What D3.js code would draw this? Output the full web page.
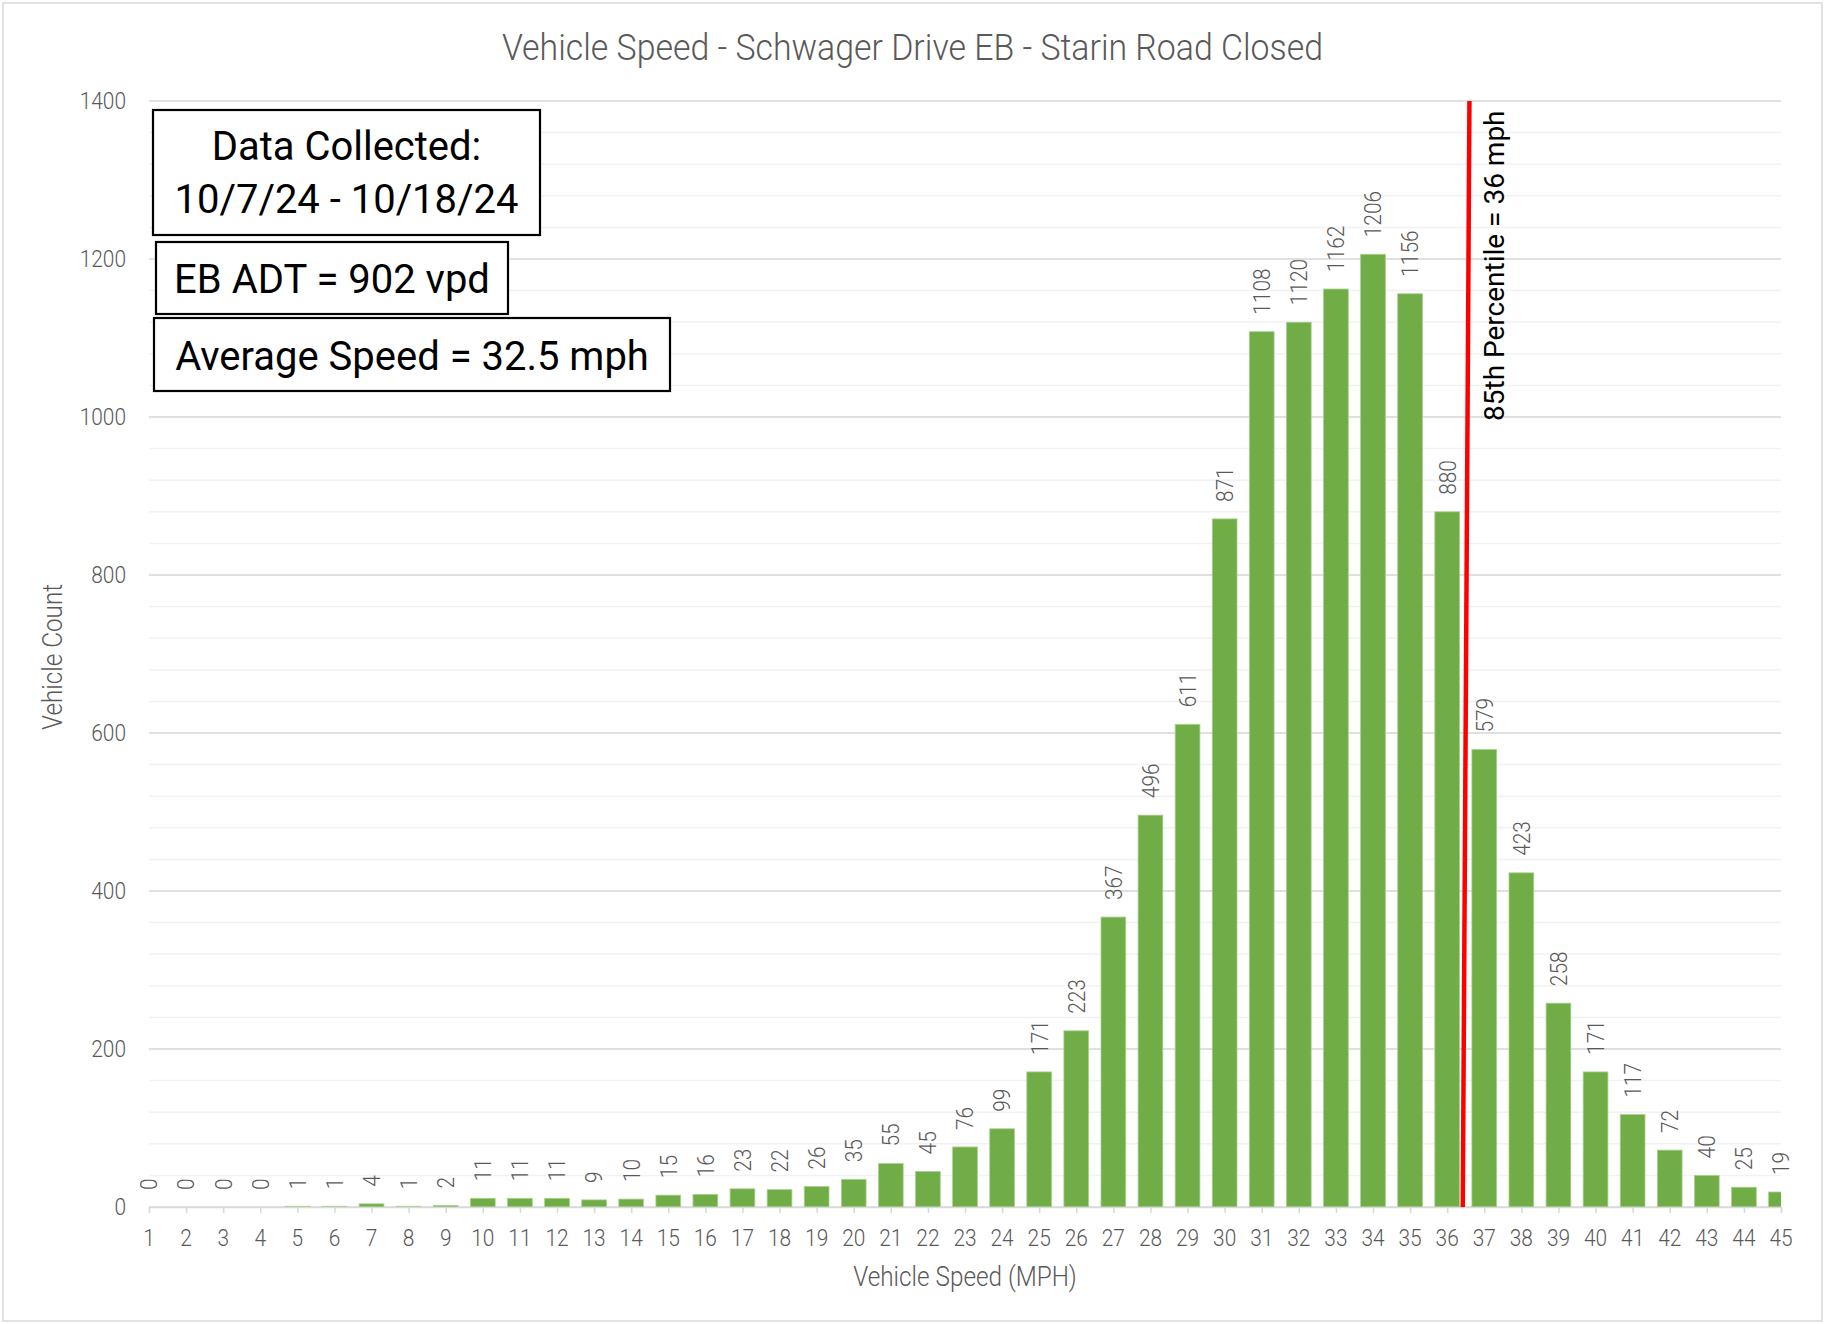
<!DOCTYPE html>
<html>
<head>
<meta charset="utf-8">
<script src="https://cdn.jsdelivr.net/npm/d3@7/dist/d3.min.js"></script>
<style>
  body { margin: 0; background: #fff; }
  svg text { font-family: Roboto, "Open Sans", sans-serif; }
</style>
</head>
<body>
<div id="chart"></div>
<script>
// ---- chart data ----
const speeds = [1, 2, 3, 4, 5, 6, 7, 8, 9, 10, 11, 12, 13, 14, 15, 16, 17, 18, 19, 20,
  21, 22, 23, 24, 25, 26, 27, 28, 29, 30, 31, 32, 33, 34, 35, 36, 37, 38, 39, 40,
  41, 42, 43, 44, 45];
const counts = [0, 0, 0, 0, 1, 1, 4, 1, 2, 11, 11, 11, 9, 10, 15, 16, 23, 22, 26, 35,
  55, 45, 76, 99, 171, 223, 367, 496, 611, 871, 1108, 1120, 1162, 1206, 1156, 880, 579, 423, 258, 171,
  117, 72, 40, 25, 19];
const yTicks = [0, 200, 400, 600, 800, 1000, 1200, 1400];
const yMinor = d3.range(0, 1401, 40);

// 85th percentile marker (hand-drawn line, slightly leaning)
const percentileLine = [{ speed: 36.42, count: 0 }, { speed: 36.6, count: 1400 }];
const percentileLabel = "85th Percentile = 36 mph";

const chartTitle = "Vehicle Speed - Schwager Drive EB - Starin Road Closed";
const xTitle = "Vehicle Speed (MPH)";
const yTitle = "Vehicle Count";
const noteBoxes = [
  ["Data Collected:", "10/7/24 - 10/18/24"],
  ["EB ADT = 902 vpd"],
  ["Average Speed = 32.5 mph"]
];

const data = speeds.map((s, i) => ({ speed: s, count: counts[i] }));

// ---- layout ----
const W = 1825, H = 1324;
const margin = { top: 101, right: 44, bottom: 117, left: 149 };
const plotW = W - margin.left - margin.right;
const plotH = H - margin.top - margin.bottom;
const grey = "#595959";

const svg = d3.select("#chart").append("svg")
  .attr("width", W).attr("height", H);

svg.append("rect")
  .attr("x", 3).attr("y", 3).attr("width", W - 6).attr("height", H - 6)
  .attr("fill", "#fff").attr("stroke", "#d9d9d9").attr("stroke-width", 1.5);

const x = d3.scaleLinear().domain([1, 45]).range([0, plotW]);
const y = d3.scaleLinear().domain([0, 1400]).range([plotH, 0]);
const step = x(2) - x(1);
const barW = step * 0.667;

const g = svg.append("g").attr("transform", `translate(${margin.left},${margin.top})`);

// gridlines
g.selectAll("line.minor").data(yMinor).join("line")
  .attr("class", "minor")
  .attr("x1", 0).attr("x2", plotW)
  .attr("y1", d => y(d)).attr("y2", d => y(d))
  .attr("stroke", "#f2f2f2").attr("stroke-width", 1.5);
g.selectAll("line.major").data(yTicks).join("line")
  .attr("class", "major")
  .attr("x1", 0).attr("x2", plotW)
  .attr("y1", d => y(d)).attr("y2", d => y(d))
  .attr("stroke", "#d9d9d9").attr("stroke-width", 1.5);

// helper: squeezed text (the original font is a narrow one)
function sqText(sel, tx, ty, rot, size, squeeze, color, anchor) {
  return sel.append("text")
    .attr("transform", `translate(${tx},${ty})${rot ? " rotate(" + rot + ")" : ""} scale(${squeeze},1)`)
    .attr("font-size", size)
    .attr("font-weight", 300)
    .attr("fill", color)
    .attr("text-anchor", anchor);
}

// y axis labels
yTicks.forEach(t => {
  sqText(g, -23, y(t), 0, 24, 0.87, grey, "end").attr("dy", "0.35em").text(t);
});

// bars (clipped to plot so the 45 bar is half width)
svg.append("clipPath").attr("id", "plotClip")
  .append("rect").attr("x", 0).attr("y", -10).attr("width", plotW).attr("height", plotH + 10);

g.append("g").attr("clip-path", "url(#plotClip)")
  .selectAll("rect").data(data).join("rect")
  .attr("x", d => x(d.speed) - barW / 2)
  .attr("y", d => y(d.count))
  .attr("width", barW)
  .attr("height", d => plotH - y(d.count))
  .attr("fill", "#70ad47")
  .attr("stroke", "#a9d18e")
  .attr("stroke-width", 0.8);

// x axis
const xAxis = g.append("g")
  .attr("transform", `translate(0,${plotH})`)
  .call(d3.axisBottom(x).tickValues(speeds).tickSize(6).tickFormat(""));
xAxis.select(".domain").attr("stroke", "#d9d9d9").attr("stroke-width", 1.5);
xAxis.selectAll(".tick line").attr("stroke", "#d9d9d9").attr("stroke-width", 1.5);
speeds.forEach(s => {
  sqText(g, x(s), plotH + 31, 0, 24, 0.87, grey, "middle").attr("dy", "0.35em").text(s);
});

// data labels
data.forEach(d => {
  sqText(g, x(d.speed), y(d.count) - 17, -90, 24, 0.87, grey, "start").attr("dy", "0.35em").text(d.count);
});

// percentile line
g.append("line")
  .attr("x1", x(percentileLine[0].speed)).attr("y1", y(percentileLine[0].count))
  .attr("x2", x(percentileLine[1].speed)).attr("y2", y(percentileLine[1].count))
  .attr("stroke", "#ff0000").attr("stroke-width", 4.5);
g.append("text")
  .attr("transform", `translate(${x(percentileLine[1].speed) + 25},${y(1400) + 320}) rotate(-90)`)
  .attr("font-size", 28)
  .attr("fill", "#000")
  .attr("text-anchor", "start")
  .attr("dy", "0.35em")
  .text(percentileLabel);

// titles
sqText(svg, W / 2, 47, 0, 37, 0.915, grey, "middle").attr("dy", "0.35em").text(chartTitle);
sqText(svg, margin.left + plotW / 2, 1277, 0, 27, 0.9, grey, "middle").attr("dy", "0.35em").text(xTitle);
sqText(svg, 53, 657, -90, 27, 0.9, grey, "middle").attr("dy", "0.35em").text(yTitle);

// note boxes
const boxGeom = [
  { x: 153, y: 110, w: 387, h: 125, lines: [160, 213] },
  { x: 156, y: 242, w: 352, h: 72, lines: [293] },
  { x: 154, y: 318, w: 516, h: 73, lines: [370] }
];
noteBoxes.forEach((lines, i) => {
  const b = boxGeom[i];
  svg.append("rect")
    .attr("x", b.x).attr("y", b.y).attr("width", b.w).attr("height", b.h)
    .attr("fill", "#fff").attr("stroke", "#000").attr("stroke-width", 2.2);
  lines.forEach((t, j) => {
    svg.append("text")
      .attr("transform", `translate(${b.x + b.w / 2},${b.lines[j]}) scale(0.975,1)`)
      .attr("font-size", 41)
      .attr("fill", "#000")
      .attr("text-anchor", "middle")
      .text(t);
  });
});
</script>
</body>
</html>
